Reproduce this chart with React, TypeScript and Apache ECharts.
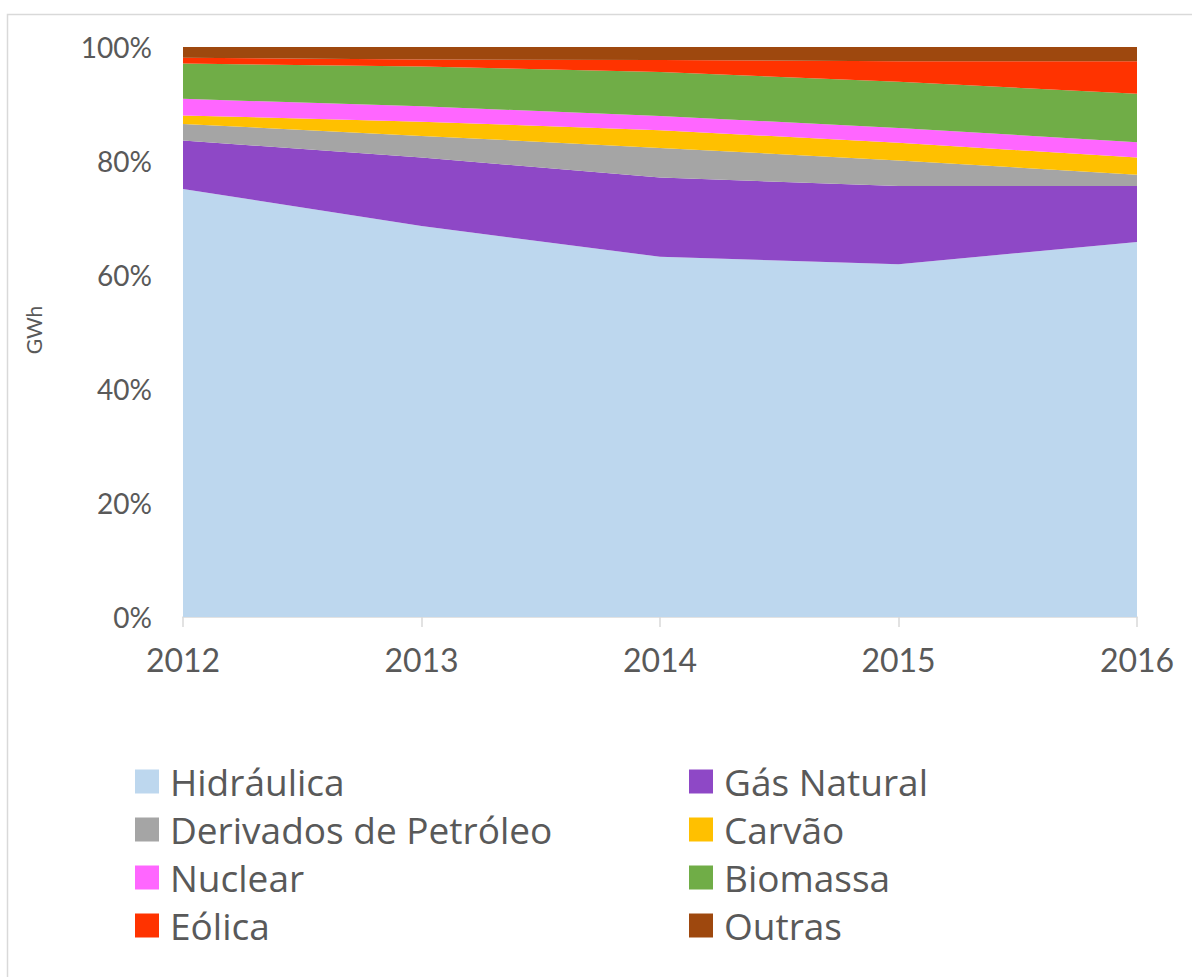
import React, { useEffect, useRef } from "react";
import * as echarts from "echarts";

const years = ["2012", "2013", "2014", "2015", "2016"];
const seriesNames = [
  "Hidráulica",
  "Gás Natural",
  "Derivados de Petróleo",
  "Carvão",
  "Nuclear",
  "Biomassa",
  "Eólica",
  "Outras",
];
const hidraulica = [75.1, 68.6, 63.2, 61.9, 65.8];
const gasNatural = [8.5, 12.0, 13.9, 13.7, 9.8];
const derivados = [2.9, 3.8, 5.2, 4.5, 2.0];
const carvao = [1.5, 2.5, 3.1, 3.1, 3.0];
const nuclear = [2.9, 2.7, 2.5, 2.6, 2.7];
const biomassa = [6.2, 7.0, 7.7, 8.1, 8.5];
const eolica = [1.0, 1.2, 2.1, 3.6, 5.7];
const outras = [1.9, 2.2, 2.3, 2.5, 2.5];
const yTicks = [0, 20, 40, 60, 80, 100];
const yAxisTitle = "GWh";

const values = [hidraulica, gasNatural, derivados, carvao, nuclear, biomassa, eolica, outras];
const colors = ["#BDD7EE", "#8E48C6", "#A5A5A5", "#FFC000", "#FF66FF", "#70AD47", "#FF3300", "#9E480E"];

const FONT = "Lato";
const LEGEND_FONT = "Open Sans";
const TEXT = "#595959";

export default function App() {
  const ref = useRef<HTMLDivElement>(null);
  useEffect(() => {
    if (!ref.current) return;
    const chart = echarts.init(ref.current, null, { renderer: "svg" });
    const legendFs = 37;
    const legendText = {
      fontFamily: LEGEND_FONT,
      fontSize: legendFs,
      color: TEXT,
      padding: [0, 0, 0, 6],
    };
    const legendBase = {
      orient: "vertical",
      top: 781.5 - legendFs / 2,
      height: 200,
      padding: 0,
      itemWidth: 24,
      itemHeight: 24,
      itemGap: 48 - legendFs,
      icon: "rect",
      textStyle: legendText,
      selectedMode: false,
    };
    chart.setOption({
      animation: false,
      backgroundColor: "#ffffff",
      graphic: [
        {
          type: "rect",
          shape: { x: 7.5, y: 14.5, width: 1200, height: 1000 },
          style: { fill: "none", stroke: "#d9d9d9", lineWidth: 1.5 },
          silent: true,
        },
        {
          type: "group",
          x: 33,
          y: 330,
          rotation: Math.PI / 2,
          silent: true,
          children: [
            {
              type: "text",
              x: 0,
              y: 0,
              style: {
                text: yAxisTitle,
                font: "21px Lato",
                fontFamily: FONT,
                fontSize: 21,
                fill: TEXT,
                align: "center",
                verticalAlign: "middle",
              },
            },
          ],
        },
      ],
      grid: { left: 183, right: 55, top: 47, bottom: 360, containLabel: false },
      xAxis: {
        type: "category",
        data: years,
        boundaryGap: false,
        axisLine: { show: true, lineStyle: { color: "#d9d9d9", width: 1.5 } },
        axisTick: { show: true, length: 10, lineStyle: { color: "#d9d9d9", width: 1.5 } },
        axisLabel: { fontFamily: FONT, fontSize: 32, color: TEXT, margin: 26 },
        splitLine: { show: false },
      },
      yAxis: {
        type: "value",
        min: yTicks[0],
        max: yTicks[yTicks.length - 1],
        interval: 20,
        axisLine: { show: false },
        axisTick: { show: false },
        splitLine: { show: false },
        axisLabel: {
          fontFamily: FONT,
          fontSize: 28,
          color: TEXT,
          margin: 31,
          formatter: (v: number) => v + "%",
        },
      },
      legend: [
        {
          ...legendBase,
          left: 135,
          data: [seriesNames[0], seriesNames[2], seriesNames[4], seriesNames[6]],
        },
        {
          ...legendBase,
          left: 689,
          data: [seriesNames[1], seriesNames[3], seriesNames[5], seriesNames[7]],
        },
      ],
      series: seriesNames.map((name, i) => ({
        name,
        type: "line",
        stack: "total",
        data: values[i],
        showSymbol: false,
        symbol: "none",
        lineStyle: { width: 0 },
        itemStyle: { color: colors[i] },
        areaStyle: { color: colors[i], opacity: 1 },
      })),
    });
    return () => chart.dispose();
  }, []);
  return (
    <div
      ref={ref}
      style={{ position: "fixed", left: 0, top: 0, width: 1192, height: 977 }}
    />
  );
}
